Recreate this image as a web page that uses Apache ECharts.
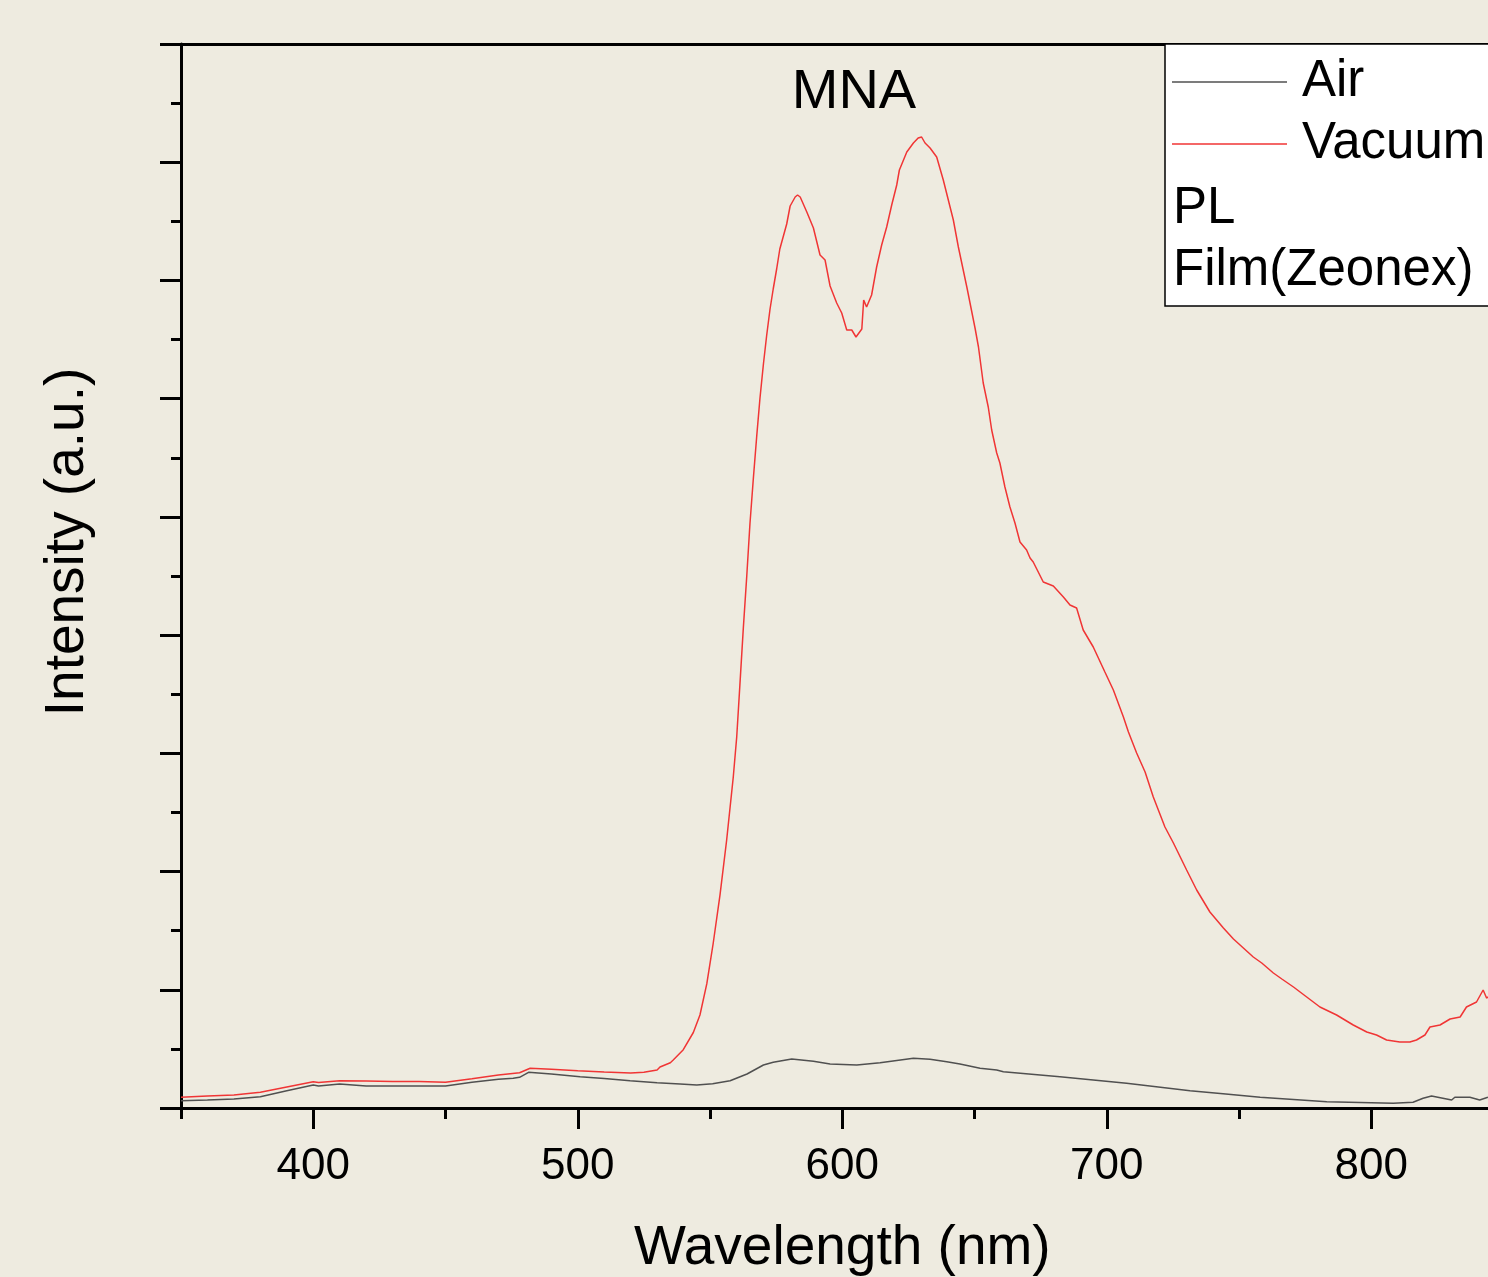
<!DOCTYPE html>
<html><head><meta charset="utf-8">
<script src="https://cdn.jsdelivr.net/npm/echarts@6/dist/echarts.min.js"></script>
<style>html,body{margin:0;padding:0;background:#EEEBE0;} #c{width:1488px;height:1277px;}</style>
</head><body><div id="c"></div>
<script>
// Wavelength (nm) and PL intensity (a.u.)
const vacWl = [350,360,370,380,390,400,402,410,420,430,440,450,460,470,478,482,490,500,510,520,525,530,531.1,535,536.1,539.9,543.7,546.2,548.8,551.2,553.8,556.3,558.8,560.1,561.3,562.6,563.9,565.1,566.4,567.7,568.9,570.2,571.4,572.7,573.9,575.2,576.4,579,580.3,582.2,583.1,584.1,586.6,589.1,591.6,593.5,595.4,597.9,599.8,601.7,603.6,605.2,607.4,608.1,609.2,611.1,613,614.9,616.8,618.7,620.6,621.6,624.4,626.9,628.7,630,631.3,633.2,635.7,638.2,642,643.9,647.1,650.2,651.5,653.3,655.2,656.5,658.4,659.6,661.5,663.4,665.3,667.2,669.7,671,672.2,676,679.8,683.6,686.1,688.6,691.1,694.9,699.3,702.5,706.3,708.2,711.3,714.5,717.6,722,725.2,730.2,734,739,744.1,747.9,750.4,755.4,758.6,763,766.2,770.6,775.6,780.6,786.9,793.2,798.3,802,805.8,810.8,814.6,817.1,820.3,822.2,826,829.8,833.6,836,839.8,842.3,843.6,844.9];
const vacVal = [10.7,12,13,15.7,21,26.3,25.5,27.3,27,26.5,26.5,25.7,29.3,33,35.3,39.7,38.7,37.3,36,35,35.7,38,41,45.3,48,58.3,75.5,93,124.3,164.5,213.3,268,331,371,423,480,532,584,630,673,710,744,772,799,819,839,859,884,902,911,913,911,896,880,853,848,822,805,795,778,778,771,779,808,801,813,841,863,881,903,923,938,956,965,970,971,965,960,951,928,888,861,821,780,761,725,701,678,655,645,621,601,585,566,558,550,546,526,522,511,503,500,478,461,436,418,391,376,355,336,311,281,265,238,218,196,180,169,163,151,145,135,129,121,111,101,93,83,76,73,68,66,66,68,73,81,83,89,91,101,106,118,110,112];
const airWl = [350,360,370,380,390,400,402,410,420,430,440,450,460,470,475.6,478,481.4,490,500.9,510,519.8,530,538.7,545,551,557.6,564,570.2,573.9,580.9,589.1,595.4,605.5,614.3,626.9,633.2,639.5,644.5,652.1,658.4,660.9,682.3,707.5,731.5,745,758,783.2,808.3,815.8,819.6,822.8,830.4,831.6,837.3,841,844.1];
const airVal = [7.3,8,9,11.3,17.3,23,22,24,22,22,22,22,25.7,28.7,29.7,30.7,35.7,34,31.3,29.5,27.3,25.3,24,23,24.3,27.3,34,43,45.7,49,46.7,44,43,45.3,49.7,48.7,46.3,44,39.7,38,36.3,31.3,24.7,17.3,14,10.7,6.3,4.7,5.7,9.7,12,8,10.7,10.7,8,10.7];
const seriesNames = ['Air','Vacuum'];
const legendNotes = ['PL','Film(Zeonex)'];
const majorXTicks = [400,500,600,700,800];
const minorXTicks = [350,450,550,650,750,850];
const xMin = 350, xMax = 850;
const yMin = 0, yMax = 1064, yStep = 1064/9;

const FONT = '"Liberation Sans", Arial, Helvetica, sans-serif';
const zip = (a,b) => a.map((x,i) => [x,b[i]]);
const chart = echarts.init(document.getElementById('c'), null, {renderer:'canvas'});
const axisBlack = {color:'#000', width:3};

chart.setOption({
  backgroundColor:'#EEEBE0',
  animation:false,
  grid:{left:181, top:44, width:1322.5, height:1064, containLabel:false, outerBoundsMode:'none'},
  xAxis:[
    {type:'value', min:xMin, max:xMax, position:'bottom',
     axisLine:{show:true, onZero:false, lineStyle:axisBlack},
     axisTick:{show:true, customValues:majorXTicks, length:21, lineStyle:axisBlack},
     axisLabel:{show:true, customValues:majorXTicks, margin:37, fontSize:44, color:'#000', fontFamily:FONT},
     splitLine:{show:false},
     name:'Wavelength (nm)', nameLocation:'middle', nameGap:113,
     nameTextStyle:{fontSize:55, color:'#000', fontFamily:FONT}},
    {type:'value', min:xMin, max:xMax, position:'bottom',
     axisLine:{show:false, onZero:false},
     axisTick:{show:true, customValues:minorXTicks, length:11, lineStyle:axisBlack},
     axisLabel:{show:false}, splitLine:{show:false}},
    {type:'value', min:xMin, max:xMax, position:'top',
     axisLine:{show:true, onZero:false, lineStyle:axisBlack},
     axisTick:{show:false}, axisLabel:{show:false}, splitLine:{show:false}}
  ],
  yAxis:{type:'value', min:yMin, max:yMax, interval:yStep, position:'left',
     axisLine:{show:true, onZero:false, lineStyle:axisBlack},
     axisTick:{show:true, length:21, lineStyle:axisBlack},
     minorTick:{show:true, splitNumber:2, length:10, lineStyle:axisBlack},
     axisLabel:{show:false}, splitLine:{show:false}},
  legend:{show:true, left:1165, top:44, orient:'vertical', data:seriesNames,
     icon:'rect', itemWidth:115, itemHeight:1.5, itemGap:11, padding:[12.5,60,136.5,7],
     backgroundColor:'#fff', borderColor:'#000', borderWidth:1.5, borderRadius:0,
     selectedMode:false,
     textStyle:{fontSize:51, color:'#000', fontFamily:FONT, padding:[4,0,0,10]}},
  graphic:[
    {type:'text', z:100, x:854, y:93, style:{text:'MNA', font:'56px ' + FONT, fill:'#000', align:'center', verticalAlign:'middle'}},
    {type:'text', z:100, x:68, y:542, rotation:Math.PI/2, style:{text:'Intensity (a.u.)', font:'55px ' + FONT, fill:'#000', align:'center', verticalAlign:'middle'}},
    {type:'text', z:100, x:1173, y:209, style:{text:legendNotes[0], font:'51px ' + FONT, fill:'#000', align:'left', verticalAlign:'middle'}},
    {type:'text', z:100, x:1173, y:271, style:{text:legendNotes[1], font:'51px ' + FONT, fill:'#000', align:'left', verticalAlign:'middle'}}
  ],
  series:[
    {name:seriesNames[0], type:'line', xAxisIndex:0, yAxisIndex:0, data:zip(airWl, airVal),
     symbol:'none', showSymbol:false, smooth:false, lineStyle:{color:'#505050', width:1.5}, itemStyle:{color:'#505050'}},
    {name:seriesNames[1], type:'line', xAxisIndex:0, yAxisIndex:0, data:zip(vacWl, vacVal),
     symbol:'none', showSymbol:false, smooth:false, lineStyle:{color:'#F03535', width:1.5}, itemStyle:{color:'#F03535'}}
  ]
});
</script></body></html>
